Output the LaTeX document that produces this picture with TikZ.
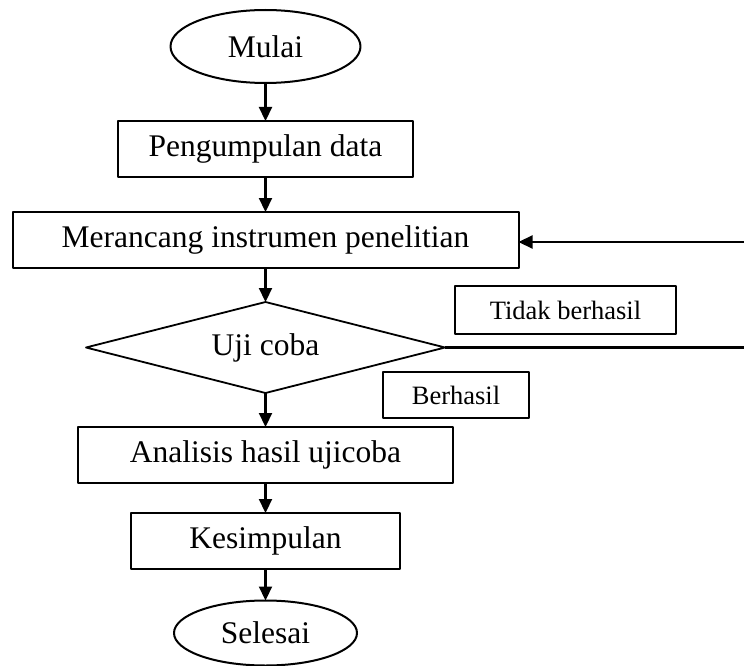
\documentclass[tikz,border=0pt]{standalone}
\usepackage{fontspec}
\setmainfont{Liberation Serif}
\usepackage{tikz}
\usetikzlibrary{arrows.meta,shapes.geometric}

\begin{document}
\begin{tikzpicture}[x=1pt,y=-1pt,line join=round,
    >={Triangle[length=14pt,width=13pt]},
    box/.style={draw,line width=2pt,inner sep=0pt,outer sep=0pt,
      font=\fontsize{31.5}{36}\selectfont},
    term/.style={box,ellipse},
    cond/.style={box,diamond,aspect=3.945,line width=1.8pt},
    tag/.style={draw,line width=1.8pt,inner sep=0pt,outer sep=0pt,
      font=\fontsize{26.5}{30}\selectfont},
    flow/.style={->,line width=2.2pt}]
  \useasboundingbox (0,0) rectangle (744,666);
  \node[term,minimum width=190pt,minimum height=73pt] (mulai) at (265.5,46.5) {Mulai};
  \node[box,minimum width=295pt,minimum height=56pt] (kumpul) at (265.5,149.0) {Pengumpulan data};
  \node[box,minimum width=506pt,minimum height=56pt] (rancang) at (265.5,240.0) {Merancang instrumen penelitian};
  \node[cond,minimum width=359pt,minimum height=91pt] (uji) at (265.5,347.5) {Uji coba};
  \node[tag,minimum width=221pt,minimum height=48pt] (gagal) at (565.5,310.0) {Tidak berhasil};
  \node[tag,minimum width=146pt,minimum height=46pt] (lulus) at (456.0,395.0) {Berhasil};
  \node[box,minimum width=375pt,minimum height=56pt] (analisis) at (265.5,455.0) {Analisis hasil ujicoba};
  \node[box,minimum width=269pt,minimum height=56pt] (simpul) at (265.5,541.0) {Kesimpulan};
  \node[term,minimum width=183pt,minimum height=65pt] (selesai) at (265.5,633.0) {Selesai};
  \coordinate (fbBot) at (744,347.5);
  \coordinate (fbTop) at (744,242.0);
  \draw[flow] (mulai) -- (kumpul);
  \draw[flow] (kumpul) -- (rancang);
  \draw[flow] (rancang) -- (uji);
  \draw[flow] (uji) -- (analisis);
  \draw[flow] (analisis) -- (simpul);
  \draw[flow] (simpul) -- (selesai);
  \draw[line width=2.2pt] (uji.east) -- (fbBot);
  \draw[flow] (fbTop) -- (rancang.east |- fbTop);
\end{tikzpicture}
\end{document}
